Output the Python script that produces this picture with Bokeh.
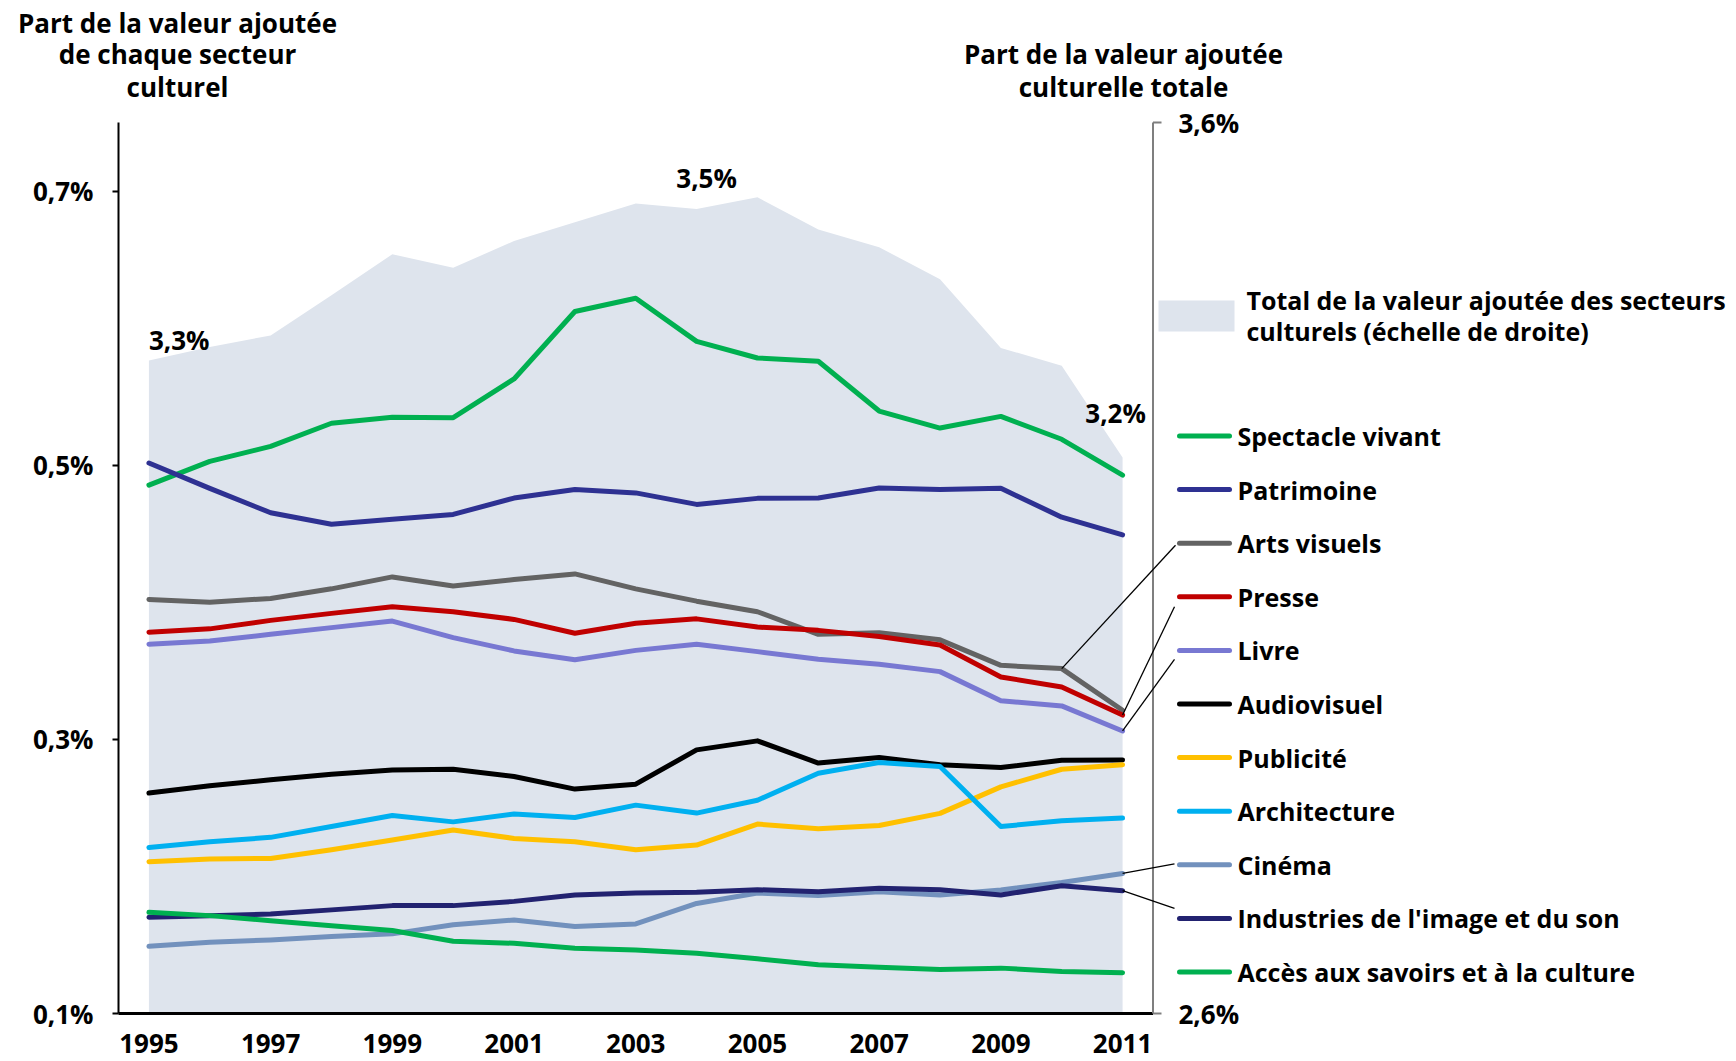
from bokeh.plotting import figure
from bokeh.models import Range1d, FixedTicker, CustomJSTickFormatter, Label, LinearAxis
from bokeh.embed import file_html
from bokeh.resources import INLINE

# ---------------- data ----------------
years = list(range(1995, 2012))
year_ticks = [1995, 1997, 1999, 2001, 2003, 2005, 2007, 2009, 2011]
left_ticks = [0.1, 0.3, 0.5, 0.7]
right_ticks = [2.6, 3.6]

total_culture = [3.333, 3.348, 3.361, 3.406, 3.452, 3.437, 3.467, 3.488, 3.509,
                 3.503, 3.516, 3.480, 3.460, 3.424, 3.347, 3.327, 3.224]

spectacle_vivant = [0.4855, 0.5028, 0.5137, 0.5306, 0.5349, 0.5347, 0.5629, 0.6121, 0.6218,
                    0.5903, 0.5782, 0.5758, 0.5395, 0.5271, 0.5356, 0.5189, 0.4927]
patrimoine = [0.5016, 0.4831, 0.4653, 0.4569, 0.4605, 0.4641, 0.4760, 0.4823, 0.4798,
              0.4714, 0.4758, 0.4761, 0.4834, 0.4823, 0.4831, 0.4621, 0.4492]
arts_visuels = [0.4021, 0.4000, 0.4028, 0.4098, 0.4185, 0.4118, 0.4166, 0.4207, 0.4098,
                0.4008, 0.3931, 0.3766, 0.3778, 0.3726, 0.3540, 0.3516, 0.3212]
presse = [0.3782, 0.3806, 0.3868, 0.3919, 0.3968, 0.3931, 0.3875, 0.3774, 0.3847,
          0.3879, 0.3819, 0.3795, 0.3750, 0.3688, 0.3455, 0.3382, 0.3177]
livre = [0.3694, 0.3718, 0.3766, 0.3815, 0.3863, 0.3742, 0.3645, 0.3581, 0.3649,
         0.3694, 0.3640, 0.3584, 0.3548, 0.3494, 0.3282, 0.3244, 0.3061]
audiovisuel = [0.2608, 0.2661, 0.2705, 0.2746, 0.2777, 0.2782, 0.2729, 0.2637, 0.2673,
               0.2923, 0.2989, 0.2827, 0.2867, 0.2815, 0.2794, 0.2848, 0.2850]
publicite = [0.2107, 0.2127, 0.2131, 0.2194, 0.2266, 0.2339, 0.2277, 0.2253, 0.2195,
             0.2229, 0.2382, 0.2347, 0.2371, 0.2460, 0.2653, 0.2782, 0.2815]
architecture = [0.2211, 0.2253, 0.2285, 0.2364, 0.2444, 0.2398, 0.2455, 0.2430, 0.2520,
                0.2462, 0.2556, 0.2753, 0.2831, 0.2802, 0.2364, 0.2406, 0.2426]
cinema = [0.1490, 0.1519, 0.1537, 0.1561, 0.1581, 0.1648, 0.1682, 0.1634, 0.1653,
          0.1803, 0.1879, 0.1860, 0.1889, 0.1864, 0.1901, 0.1956, 0.2022]
industries_image_son = [0.1702, 0.1714, 0.1726, 0.1756, 0.1787, 0.1787, 0.1818, 0.1865, 0.1879,
                        0.1884, 0.1903, 0.1889, 0.1913, 0.1903, 0.1865, 0.1932, 0.1896]
acces_savoirs = [0.1738, 0.1714, 0.1677, 0.1641, 0.1605, 0.1527, 0.1512, 0.1476, 0.1464,
                 0.1440, 0.1399, 0.1355, 0.1337, 0.1321, 0.1331, 0.1306, 0.1297]

series_names = ["Spectacle vivant", "Patrimoine", "Arts visuels", "Presse", "Livre",
                "Audiovisuel", "Publicité", "Architecture", "Cinéma",
                "Industries de l'image et du son", "Accès aux savoirs et à la culture"]
series_values = [spectacle_vivant, patrimoine, arts_visuels, presse, livre, audiovisuel,
                 publicite, architecture, cinema, industries_image_son, acces_savoirs]
series_colors = ["#00B050", "#2E3192", "#636363", "#C00000", "#7878D2", "#000000",
                 "#FFC000", "#00B0F0", "#7291BD", "#222270", "#00B050"]

area_label = ["Total de la valeur ajoutée des secteurs", "culturels (échelle de droite)"]
left_title = ["Part de la valeur ajoutée", "de chaque secteur", "culturel"]
right_title = ["Part de la valeur ajoutée", "culturelle totale"]

# ---------------- layout helpers (canvas pixels -> data) ----------------
FONT = "Open Sans"
W, H = 1736, 1061
FRAME_L, FRAME_T, FRAME_B = 118, 110, 1027
PX_TOP, PX_BOT = 122, 1013                  # pixel rows of the axis ends
SCALE_L = (left_ticks[-1] + 0.05 - left_ticks[0]) / (PX_BOT - PX_TOP)   # value / px (left)
SCALE_R = (right_ticks[1] - right_ticks[0]) / (PX_BOT - PX_TOP)         # value / px (right)
PXY = 1034.5 / 17.0                          # px per year
X0 = years[0] - 0.5
X_END = X0 + (W - FRAME_L) / PXY
Y_TOP_VAL = left_ticks[0] + (PX_BOT - PX_TOP) * SCALE_L   # 0.75


def xd(px):
    return X0 + (px - FRAME_L) / PXY


def yd(px):
    return Y_TOP_VAL - (px - PX_TOP) * SCALE_L


def pct(v):
    return f"{v:.1f}".replace(".", ",") + "%"


p = figure(width=W, height=H, title=None,
           x_range=Range1d(X0, X_END),
           y_range=Range1d(yd(FRAME_B), yd(FRAME_T)),
           output_backend="svg", toolbar_location=None,
           min_border_left=FRAME_L, min_border_right=0, min_border_top=FRAME_T,
           min_border_bottom=H - FRAME_B,
           outline_line_color=None, background_fill_color="white", border_fill_color="white")
p.extra_y_ranges = {"right": Range1d(right_ticks[0] - (FRAME_B - PX_BOT) * SCALE_R,
                                     right_ticks[1] + (PX_TOP - FRAME_T) * SCALE_R)}
p.xgrid.visible = False
p.ygrid.visible = False

# axes
xa = p.xaxis[0]
xa.ticker = FixedTicker(ticks=year_ticks)
xa.axis_line_color = None
xa.major_tick_line_color = None
xa.major_tick_out = 0
xa.minor_tick_line_color = None
xa.major_label_text_font = FONT
xa.major_label_text_font_style = "bold"
xa.major_label_text_font_size = "26px"
xa.major_label_text_color = "black"
xa.major_label_standoff = 6

ya = p.yaxis[0]
ya.bounds = (left_ticks[0], Y_TOP_VAL)
ya.ticker = FixedTicker(ticks=left_ticks)
ya.formatter = CustomJSTickFormatter(code="return tick.toFixed(1).replace('.', ',') + '%';")
ya.axis_line_width = 2
ya.axis_line_color = "black"
ya.major_tick_line_width = 2
ya.major_tick_out = 6
ya.major_tick_in = 0
ya.minor_tick_line_color = None
ya.major_label_text_font = FONT
ya.major_label_text_font_style = "bold"
ya.major_label_text_font_size = "26px"
ya.major_label_text_color = "black"
ya.major_label_standoff = 19

# titles of both scales: text-only axes stacked above the frame (nearest row first)
title_rows = [
    [(xd(177), left_title[2]), (xd(1123), right_title[1])],
    [(xd(177), left_title[1]), (xd(1123), right_title[0])],
    [(xd(177), left_title[0])],
]
row_standoff = [6, -6, -8]
for row, so in zip(title_rows, row_standoff):
    ax = LinearAxis(ticker=FixedTicker(ticks=[r[0] for r in row]),
                    formatter=CustomJSTickFormatter(args=dict(labels=[r[1] for r in row]),
                                                    code="return labels[index];"),
                    axis_line_color=None, major_tick_line_color=None, major_tick_out=0,
                    major_tick_in=0, minor_tick_line_color=None, major_label_standoff=so,
                    major_label_text_font=FONT, major_label_text_font_style="bold",
                    major_label_text_font_size="26px", major_label_text_color="black")
    p.add_layout(ax, "above")

# area (right scale)
AREA_COLOR = "#DEE4ED"
p.varea(x=years, y1=right_ticks[0], y2=total_culture, y_range_name="right",
        fill_color=AREA_COLOR)

# bottom axis line and right axis (at end of category range)
X_RIGHT = years[-1] + 0.5
p.segment(x0=[xd(112)], y0=[left_ticks[0]], x1=[X_RIGHT], y1=[left_ticks[0]],
          line_color="black", line_width=3)
p.segment(x0=[X_RIGHT], y0=[left_ticks[0]], x1=[X_RIGHT], y1=[Y_TOP_VAL],
          line_color="#7F7F7F", line_width=2)
p.segment(x0=[X_RIGHT] * 2, y0=right_ticks, x1=[xd(1161)] * 2, y1=right_ticks,
          y_range_name="right", line_color="#7F7F7F", line_width=2)

# series lines
for vals, col in zip(series_values, series_colors):
    p.line(years, vals, line_color=col, line_width=5, line_cap="round", line_join="round")


def lbl(x, y, text, size="25px", align="left", **kw):
    p.add_layout(Label(x=x, y=y, text=text, text_font=FONT, text_font_style="bold",
                       text_font_size=size, text_color="black", text_align=align,
                       text_baseline="middle", **kw))


# right scale tick labels
for t in right_ticks:
    lbl(xd(1178), t, pct(t), size="26px", y_range_name="right")

# area value labels
lbl(years[0], total_culture[0] + 20 * SCALE_R, pct(total_culture[0]), size="26px",
    y_range_name="right")
lbl(years[9] + 10 / PXY, total_culture[9] + 31 * SCALE_R, pct(total_culture[9]),
    size="26px", align="center", y_range_name="right")
lbl(years[16] - 7 / PXY, total_culture[16] + 45 * SCALE_R, pct(total_culture[16]),
    size="26px", align="center", y_range_name="right")

# legend: area entry
p.quad(left=[xd(1158)], right=[xd(1234)], top=[yd(300)], bottom=[yd(331)],
       fill_color=AREA_COLOR, line_color=None)
for i, t in enumerate(area_label):
    lbl(xd(1246), yd(299 + 31 * i), t)

# legend: line entries
ROW0, PITCH = 435.5, 53.6
row_y = [ROW0 + PITCH * i for i in range(len(series_names))]
for name, col, ry in zip(series_names, series_colors, row_y):
    p.segment(x0=[xd(1179)], y0=[yd(ry)], x1=[xd(1229)], y1=[yd(ry)],
              line_color=col, line_width=5, line_cap="round")
    lbl(xd(1237), yd(ry), name)

# leader lines from series ends to legend entries
leaders = [
    (years[15], arts_visuels[15], 1175, row_y[2] + 2),
    (years[16], presse[16], 1174, row_y[3] + 10),
    (years[16], livre[16], 1174, row_y[4] + 9),
    (years[16], cinema[16], 1174, row_y[8] - 1),
    (years[16], industries_image_son[16], 1174, row_y[9] - 10),
]
p.segment(x0=[l[0] for l in leaders], y0=[l[1] for l in leaders],
          x1=[xd(l[2]) for l in leaders], y1=[yd(l[3]) for l in leaders],
          line_color="black", line_width=1.3)

open("out.html", "w").write(file_html(p, INLINE))
